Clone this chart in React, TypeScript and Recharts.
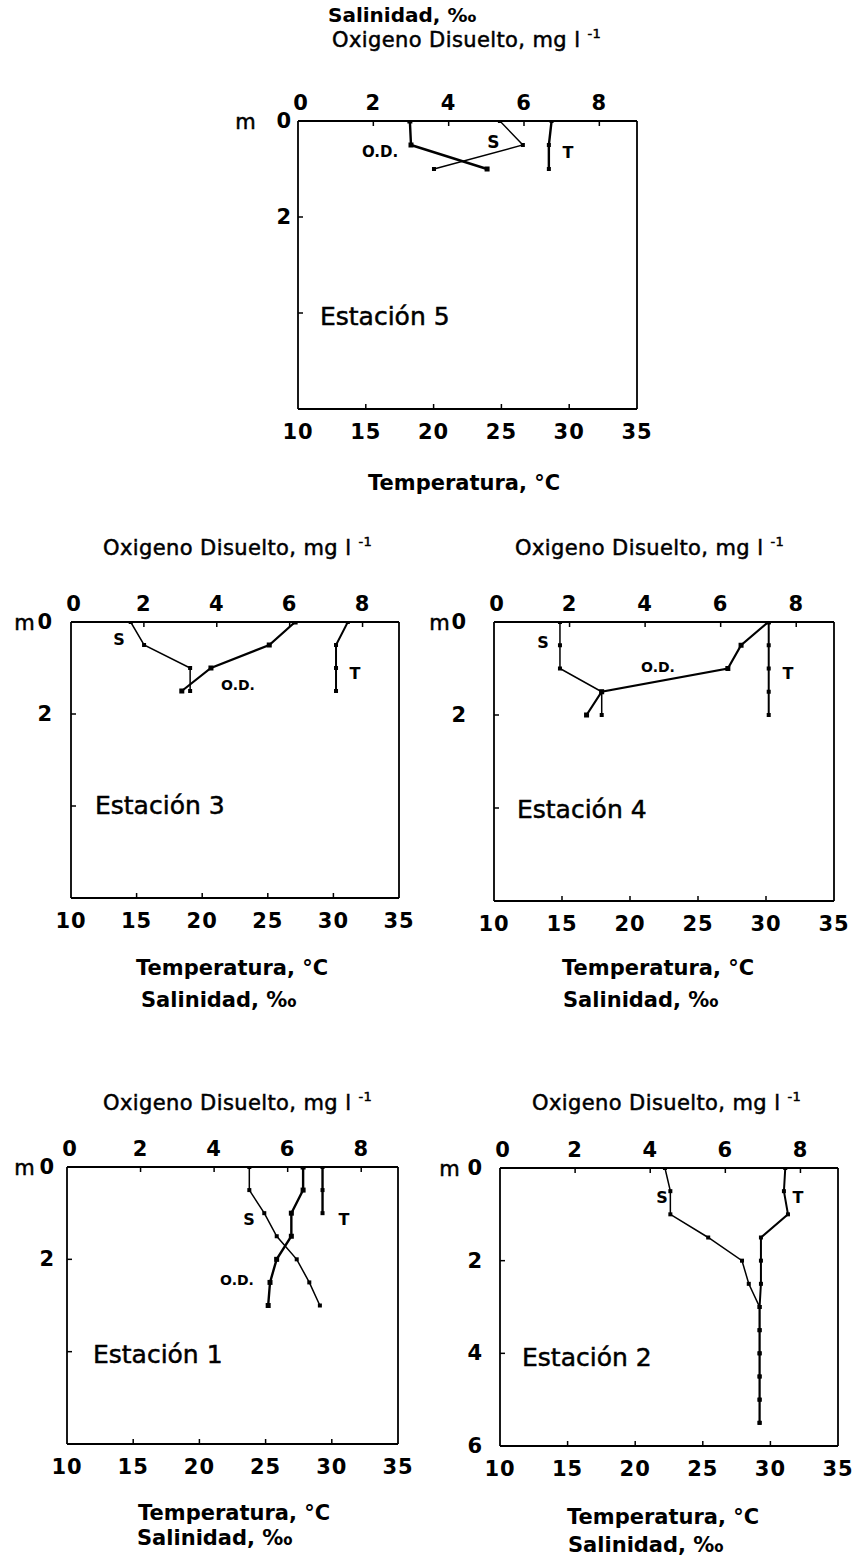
import React from 'react';
import { ScatterChart, Scatter, XAxis, YAxis, ReferenceDot } from 'recharts';

const FONT = '"DejaVu Sans", "Liberation Sans", Arial, sans-serif';

// ---- axes ----
const topTicks = [0, 2, 4, 6, 8];
const bottomTicks = [10, 15, 20, 25, 30, 35];
const topDomain: [number, number] = [0, 9];
const bottomDomain: [number, number] = [10, 35];
const depthDomain: [number, number] = [0, 6];

// ---- Estación 5 ----
const st5Depth = [0, 0.5, 1.0];
const st5OD = [2.97, 3.0, 5.02];
const st5S = [5.36, 5.97, 3.61]; // on top axis (Salinidad / O.D.)
const st5T = [28.7, 28.5, 28.5];

// ---- Estación 3 ----
const st3Depth = [0, 0.5, 1.0, 1.5];
const st3OD = [6.15, 5.44, 3.84, 3.04];
const st3S = [14.55, 15.57, 19.08, 19.08];
const st3T = [31.1, 30.2, 30.2, 30.2];

// ---- Estación 4 ----
const st4Depth = [0, 0.5, 1.0, 1.5, 2.0];
const st4OD = [7.26, 6.54, 6.19, 2.85, 2.45];
const st4S = [14.85, 14.85, 14.85, 17.92, 17.92];
const st4T = [30.2, 30.2, 30.2, 30.2, 30.2];

// ---- Estación 1 ----
const st1Depth = [0, 0.5, 1.0, 1.5, 2.0, 2.5, 3.0];
const st1OD = [6.42, 6.42, 6.1, 6.1, 5.7, 5.52, 5.47];
const st1S = [23.77, 23.77, 24.9, 25.84, 27.35, 28.3, 29.1];
const st1TDepth = [0, 0.5, 1.0];
const st1T = [29.3, 29.3, 29.3];

// ---- Estación 2 ----
const st2Depth = [0, 0.5, 1.0, 1.5, 2.0, 2.5, 3.0, 3.5, 4.0, 4.5, 5.0, 5.5];
const st2S = [22.2, 22.6, 22.6, 25.4, 27.9, 28.4, 29.2, 29.2, 29.2, 29.2, 29.2, 29.2];
const st2T = [31.1, 31.0, 31.3, 29.3, 29.3, 29.3, 29.2, 29.2, 29.2, 29.2, 29.2, 29.2];

const zip = (d: number[], v: number[]) => d.map((dd, i) => ({ d: dd, v: v[i] }));

type Series = { data: { d: number; v: number }[]; axis: 'top' | 'bottom'; w: number; m: number };
type Note = { text: string; x: number; d: number; anchor: 'start' | 'middle'; size: number; bold: boolean };
type PanelCfg = {
  id: string;
  boxX: number; boxY: number; boxW: number; boxH: number;
  depthTicks: number[]; depthLabels: number[];
  gap: number; mOff: number;
  series: Series[]; notes: Note[];
};

const note = (text: string, x: number, d: number, size = 16): Note => ({ text, x, d, anchor: 'middle', size, bold: true });
const station = (text: string, x: number, d: number): Note => ({ text, x, d, anchor: 'start', size: 25, bold: false });

const panels: PanelCfg[] = [
  {
    id: 'p5', boxX: 298, boxY: 121, boxW: 339, boxH: 288,
    depthTicks: [0, 2, 4], depthLabels: [0, 2], gap: 6, mOff: 52,
    series: [
      { data: zip(st5Depth, st5OD), axis: 'top', w: 2.4, m: 5 },
      { data: zip(st5Depth, st5S), axis: 'top', w: 1.4, m: 4 },
      { data: zip(st5Depth, st5T), axis: 'bottom', w: 2.4, m: 4 },
    ],
    notes: [note('O.D.', 16.05, 0.65, 15), note('S', 24.4, 0.44, 17), note('T', 29.9, 0.65, 16), station('Estación 5', 11.62, 4.08)],
  },
  {
    id: 'p3', boxX: 71, boxY: 622, boxW: 328, boxH: 276,
    depthTicks: [0, 2, 4], depthLabels: [0, 2], gap: 18, mOff: 46,
    series: [
      { data: zip(st3Depth, st3OD), axis: 'top', w: 2.2, m: 5 },
      { data: zip(st3Depth, st3S), axis: 'bottom', w: 1.5, m: 4 },
      { data: zip(st3Depth, st3T), axis: 'bottom', w: 2, m: 4 },
    ],
    notes: [note('S', 13.66, 0.39), note('O.D.', 22.73, 1.37, 14), note('T', 31.65, 1.11), station('Estación 3', 11.83, 3.98)],
  },
  {
    id: 'p4', boxX: 494, boxY: 622, boxW: 340, boxH: 279,
    depthTicks: [0, 2, 4], depthLabels: [0, 2], gap: 27, mOff: 54,
    series: [
      { data: zip(st4Depth, st4OD), axis: 'top', w: 2.2, m: 5 },
      { data: zip(st4Depth, st4S), axis: 'bottom', w: 1.5, m: 4 },
      { data: zip(st4Depth, st4T), axis: 'bottom', w: 2, m: 4 },
    ],
    notes: [note('S', 13.6, 0.45), note('O.D.', 22.06, 0.97, 14), note('T', 31.62, 1.1), station('Estación 4', 11.69, 4.04)],
  },
  {
    id: 'p1', boxX: 67, boxY: 1167, boxW: 331, boxH: 277,
    depthTicks: [0, 2, 4], depthLabels: [0, 2], gap: 12, mOff: 42,
    series: [
      { data: zip(st1Depth, st1OD), axis: 'top', w: 2.4, m: 5 },
      { data: zip(st1Depth, st1S), axis: 'bottom', w: 1.5, m: 4 },
      { data: zip(st1TDepth, st1T), axis: 'bottom', w: 2.4, m: 4 },
    ],
    notes: [note('S', 23.75, 1.13), note('O.D.', 22.84, 2.45, 14), note('T', 30.92, 1.13), station('Estación 1', 11.96, 4.07)],
  },
  {
    id: 'p2', boxX: 500, boxY: 1168, boxW: 338, boxH: 278,
    depthTicks: [0, 2, 4, 6], depthLabels: [0, 2, 4, 6], gap: 17, mOff: 50,
    series: [
      { data: zip(st2Depth, st2S), axis: 'bottom', w: 1.5, m: 4 },
      { data: zip(st2Depth, st2T), axis: 'bottom', w: 2, m: 4 },
    ],
    notes: [note('S', 21.98, 0.63), note('T', 32.04, 0.63), station('Estación 2', 11.63, 4.09)],
  },
];

const PL = 70; // left axis width
const PT = 40; // top axis height
const PB = 40; // bottom axis height
const PR = 30; // right axis width

const tickFont = { fontFamily: FONT, fontSize: 21, fontWeight: 'bold' as const, fill: '#000', letterSpacing: 1 };

const makeLeftTick = (labels: number[], gap: number, mOff: number) => (props: any) => {
  const { x, y, payload } = props;
  const v = payload.value;
  return (
    <g>
      {v !== 0 && v !== 6 && <line x1={x} x2={x + 5} y1={y} y2={y} stroke="#000" strokeWidth={1.5} />}
      {labels.includes(v) && (
        <text x={x - gap} y={y} textAnchor="end" dominantBaseline="central" {...tickFont}>{v}</text>
      )}
      {v === 0 && (
        <text x={x - mOff} y={y + 1} textAnchor="middle" dominantBaseline="central" {...tickFont} fontWeight="normal"
          stroke="#000" strokeWidth={0.5}>m</text>
      )}
    </g>
  );
};

const TopTick = (props: any) => {
  const { x, y, payload } = props;
  const v = payload.value;
  return (
    <g>
      {v !== 0 && <line x1={x} x2={x} y1={y} y2={y + 5} stroke="#000" strokeWidth={1.5} />}
      <text x={x + (v === 0 ? 3 : 0)} y={y - 18} textAnchor="middle" dominantBaseline="central" {...tickFont}>{v}</text>
    </g>
  );
};

const BottomTick = (props: any) => {
  const { x, y, payload } = props;
  const v = payload.value;
  return (
    <g>
      {v !== 10 && v !== 35 && <line x1={x} x2={x} y1={y} y2={y - 5} stroke="#000" strokeWidth={1.5} />}
      <text x={x} y={y + 23} textAnchor="middle" dominantBaseline="central" {...tickFont}>{v}</text>
    </g>
  );
};

const markerShape = (size: number) => (p: any) => (
  <rect x={p.cx - size / 2} y={p.cy - size / 2} width={size} height={size} fill="#000" />
);

const axisLine = { stroke: '#000', strokeWidth: 1.8 };

function Panel({ cfg }: { cfg: PanelCfg }) {
  const w = cfg.boxW + PL + PR;
  const h = cfg.boxH + PT + PB;
  return (
    <div style={{ position: 'absolute', left: cfg.boxX - PL, top: cfg.boxY - PT, width: w, height: h }}>
      <ScatterChart width={w} height={h} margin={{ top: 0, right: 0, bottom: 0, left: 0 }} style={{ overflow: 'visible' }}>
        <XAxis xAxisId="top" orientation="top" type="number" dataKey="v" domain={topDomain} ticks={topTicks}
          allowDataOverflow interval={0} height={PT} tickSize={0} tickMargin={0} tickLine={false}
          axisLine={axisLine} tick={TopTick} />
        <XAxis xAxisId="bottom" orientation="bottom" type="number" dataKey="v" domain={bottomDomain} ticks={bottomTicks}
          allowDataOverflow interval={0} height={PB} tickSize={0} tickMargin={0} tickLine={false}
          axisLine={axisLine} tick={BottomTick} />
        <YAxis yAxisId="d" orientation="left" type="number" dataKey="d" domain={depthDomain} reversed
          ticks={cfg.depthTicks} allowDataOverflow interval={0} width={PL} tickSize={0} tickMargin={0}
          tickLine={false} axisLine={axisLine} tick={makeLeftTick(cfg.depthLabels, cfg.gap, cfg.mOff)} />
        <YAxis yAxisId="r" orientation="right" type="number" domain={depthDomain} reversed width={PR}
          tick={false} tickLine={false} axisLine={axisLine} allowDataOverflow />
        {cfg.series.map((s, i) => (
          <Scatter key={i} data={s.data} xAxisId={s.axis} yAxisId="d" fill="#000"
            line={{ stroke: '#000', strokeWidth: s.w }} lineType="joint"
            shape={markerShape(s.m)} isAnimationActive={false} />
        ))}
        {cfg.notes.map((n, i) => (
          <ReferenceDot key={'n' + i} xAxisId="bottom" yAxisId="d" x={n.x} y={n.d} r={1}
            shape={(p: any) => (
              <text x={p.cx} y={p.cy} textAnchor={n.anchor} dominantBaseline="central"
                fontFamily={FONT} fontSize={n.size} fontWeight={n.bold ? 'bold' : 'normal'} fill="#000"
                stroke={n.bold ? 'none' : '#000'} strokeWidth={n.bold ? 0 : 0.5}>
                {n.text}
              </text>
            )} />
        ))}
      </ScatterChart>
    </div>
  );
}

type Txt = { x: number; y: number; kind: 'od' | 'temp' | 'sal'; size?: number };
const texts: Txt[] = [
  { x: 328, y: 15, kind: 'sal', size: 20 },
  { x: 332, y: 40, kind: 'od' },
  { x: 368, y: 483, kind: 'temp' },
  { x: 103, y: 548, kind: 'od' },
  { x: 515, y: 548, kind: 'od' },
  { x: 136, y: 968, kind: 'temp' },
  { x: 141, y: 1000, kind: 'sal' },
  { x: 562, y: 968, kind: 'temp' },
  { x: 563, y: 1000, kind: 'sal' },
  { x: 103, y: 1103, kind: 'od' },
  { x: 532, y: 1103, kind: 'od' },
  { x: 138, y: 1513, kind: 'temp' },
  { x: 137, y: 1538, kind: 'sal' },
  { x: 567, y: 1517, kind: 'temp' },
  { x: 568, y: 1545, kind: 'sal' },
];

function TextLine({ t }: { t: Txt }) {
  const size = t.size ?? 21;
  const base: React.CSSProperties = {
    position: 'absolute', left: t.x, top: t.y - 13, height: 26, lineHeight: '26px',
    fontFamily: FONT, fontSize: size, whiteSpace: 'nowrap', color: '#000',
  };
  if (t.kind === 'od') {
    return (
      <div style={{ ...base, fontWeight: 'normal', WebkitTextStroke: '0.5px #000', letterSpacing: 0.4 }}>
        Oxigeno Disuelto, mg l
        <span style={{ fontSize: 13, position: 'relative', top: -9, marginLeft: 7 }}>-1</span>
      </div>
    );
  }
  if (t.kind === 'temp') return <div style={{ ...base, fontWeight: 'bold' }}>Temperatura, °C</div>;
  return <div style={{ ...base, fontWeight: 'bold' }}>Salinidad, ‰</div>;
}

export default function App() {
  return (
    <div style={{ position: 'absolute', left: 0, top: 0, width: 858, height: 1564, background: '#fff' }}>
      {panels.map((p) => <Panel key={p.id} cfg={p} />)}
      {texts.map((t, i) => <TextLine key={i} t={t} />)}
    </div>
  );
}
